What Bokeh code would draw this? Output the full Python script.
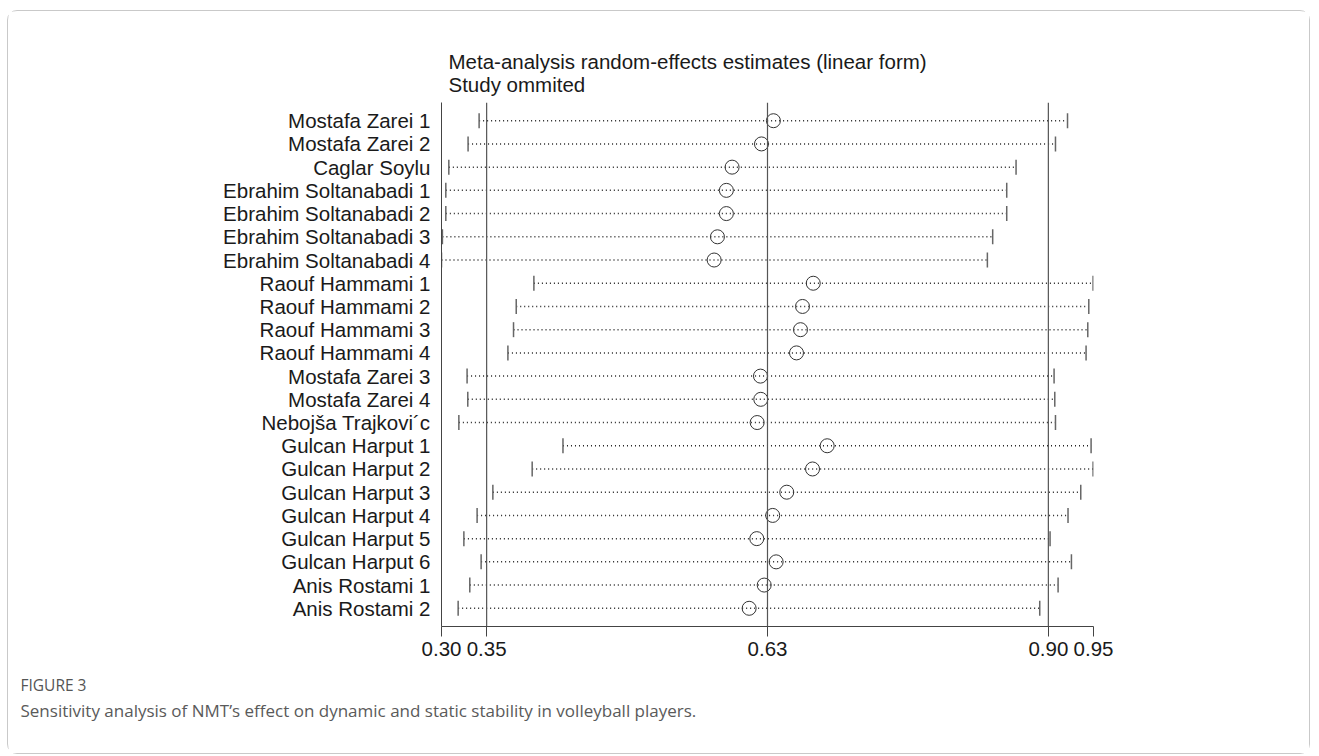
import math
from bokeh.plotting import figure
from bokeh.models import ColumnDataSource, Range1d, FactorRange, FixedTicker, Span, Title
from bokeh.embed import file_html
from bokeh.resources import INLINE

studies = [
    "Mostafa Zarei 1", "Mostafa Zarei 2", "Caglar Soylu",
    "Ebrahim Soltanabadi 1", "Ebrahim Soltanabadi 2", "Ebrahim Soltanabadi 3", "Ebrahim Soltanabadi 4",
    "Raouf Hammami 1", "Raouf Hammami 2", "Raouf Hammami 3", "Raouf Hammami 4",
    "Mostafa Zarei 3", "Mostafa Zarei 4", "Nebojša Trajkovi´c",
    "Gulcan Harput 1", "Gulcan Harput 2", "Gulcan Harput 3", "Gulcan Harput 4",
    "Gulcan Harput 5", "Gulcan Harput 6", "Anis Rostami 1", "Anis Rostami 2",
]
lower = [0.3375, 0.3265, 0.3073, 0.3043, 0.3043, 0.3009, 0.3000,
         0.3921, 0.3745, 0.3718, 0.3662,
         0.3255, 0.3262, 0.3173,
         0.4211, 0.3904, 0.3512, 0.3355, 0.3223, 0.3395, 0.3282, 0.3166]
estimate = [0.6309, 0.6190, 0.5897, 0.5840, 0.5840, 0.5751, 0.5718,
            0.6706, 0.6599, 0.6579, 0.6539,
            0.6180, 0.6183, 0.6147,
            0.6845, 0.6699, 0.6442, 0.6302, 0.6143, 0.6336, 0.6217, 0.6067]
upper = [0.9241, 0.9121, 0.8728, 0.8635, 0.8635, 0.8495, 0.8442,
         0.9496, 0.9453, 0.9443, 0.9426,
         0.9107, 0.9114, 0.9121,
         0.9476, 0.9496, 0.9373, 0.9246, 0.9067, 0.9280, 0.9147, 0.8964]

overall_lower = 0.345
overall_estimate = 0.625
overall_upper = 0.905
axis_min = 0.300
axis_max = 0.950
tick_values = [axis_min, overall_lower, overall_estimate, overall_upper, axis_max]
tick_labels = ["0.30", "0.35", "0.63", "0.90", "0.95"]

title_line1 = "Meta-analysis random-effects estimates (linear form)"
title_line2 = "Study ommited"
caption_head = "FIGURE 3"
caption_text = "Sensitivity analysis of NMT\u2019s effect on dynamic and static stability in volleyball players."

FONT = "Liberation Sans"
INK = "#1a1a1a"
FS = "20.5px"

source = ColumnDataSource(dict(study=studies, lower=lower, est=estimate, upper=upper))

p = figure(
    width=1303, height=744,
    x_range=Range1d(axis_min, axis_max),
    y_range=FactorRange(factors=list(reversed(studies)), range_padding=0.284, range_padding_units="absolute"),
    output_backend="svg", toolbar_location=None,
    min_border_left=433, min_border_right=218, min_border_top=91, min_border_bottom=129,
    styles={"margin-left": "7px", "margin-top": "10px", "border": "1px solid #c9c9c9", "border-radius": "10px"},
)
p.outline_line_color = None
p.xgrid.visible = False
p.ygrid.visible = False
p.background_fill_color = "white"
p.border_fill_color = "white"

# titles (outer: line1, inner: line2)
p.title.text = title_line1
p.title.text_font = FONT
p.title.text_font_size = FS
p.title.text_font_style = "normal"
p.title.text_color = INK
p.title.offset = 7
p.title.standoff = -18
p.add_layout(Title(text=title_line2, text_font=FONT, text_font_size=FS, text_font_style="normal",
                   text_color=INK, offset=7, standoff=14), "above")

# x axis
xa = p.xaxis[0]
xa.ticker = FixedTicker(ticks=tick_values)
xa.major_label_overrides = {v: s for v, s in zip(tick_values, tick_labels)}
xa.major_label_text_font = FONT
xa.major_label_text_font_size = FS
xa.major_label_text_color = INK
xa.axis_line_color = "#444444"
xa.major_tick_line_color = "#444444"
xa.major_tick_out = 10
xa.major_tick_in = 0
xa.minor_tick_line_color = None
xa.major_label_standoff = 5

# y axis
ya = p.yaxis[0]
ya.major_label_text_font = FONT
ya.major_label_text_font_size = FS
ya.major_label_text_color = INK
ya.axis_line_color = "#444444"
ya.major_tick_line_color = None
ya.minor_tick_line_color = None
ya.major_label_standoff = 5

# reference lines at overall CI and estimate
for v in (overall_lower, overall_estimate, overall_upper):
    p.add_layout(Span(location=v, dimension="height", line_color="#555555", line_width=1.2))

p.segment(x0="lower", y0="study", x1="upper", y1="study", source=source,
          line_color="#222222", line_width=1.5, line_dash="1 3")
p.scatter(x="lower", y="study", source=source, marker="dash", angle=math.pi / 2, size=15,
          line_color="#666666", line_width=1.5)
p.scatter(x="upper", y="study", source=source, marker="dash", angle=math.pi / 2, size=15,
          line_color="#666666", line_width=1.5)
p.scatter(x="est", y="study", source=source, marker="circle", size=14,
          fill_color=None, line_color="#333333", line_width=1)

# caption below the axis
p.add_layout(Title(text=caption_head, text_font="Open Sans", text_font_size="15.5px", text_font_style="normal",
                   text_color="#555555", align="left", offset=-421, standoff=26), "below")
p.add_layout(Title(text=caption_text, text_font="Open Sans", text_font_size="17px", text_font_style="normal",
                   text_color="#5a5a5a", align="left", offset=-421, standoff=-24), "below")

open("out.html", "w").write(file_html(p, INLINE))
